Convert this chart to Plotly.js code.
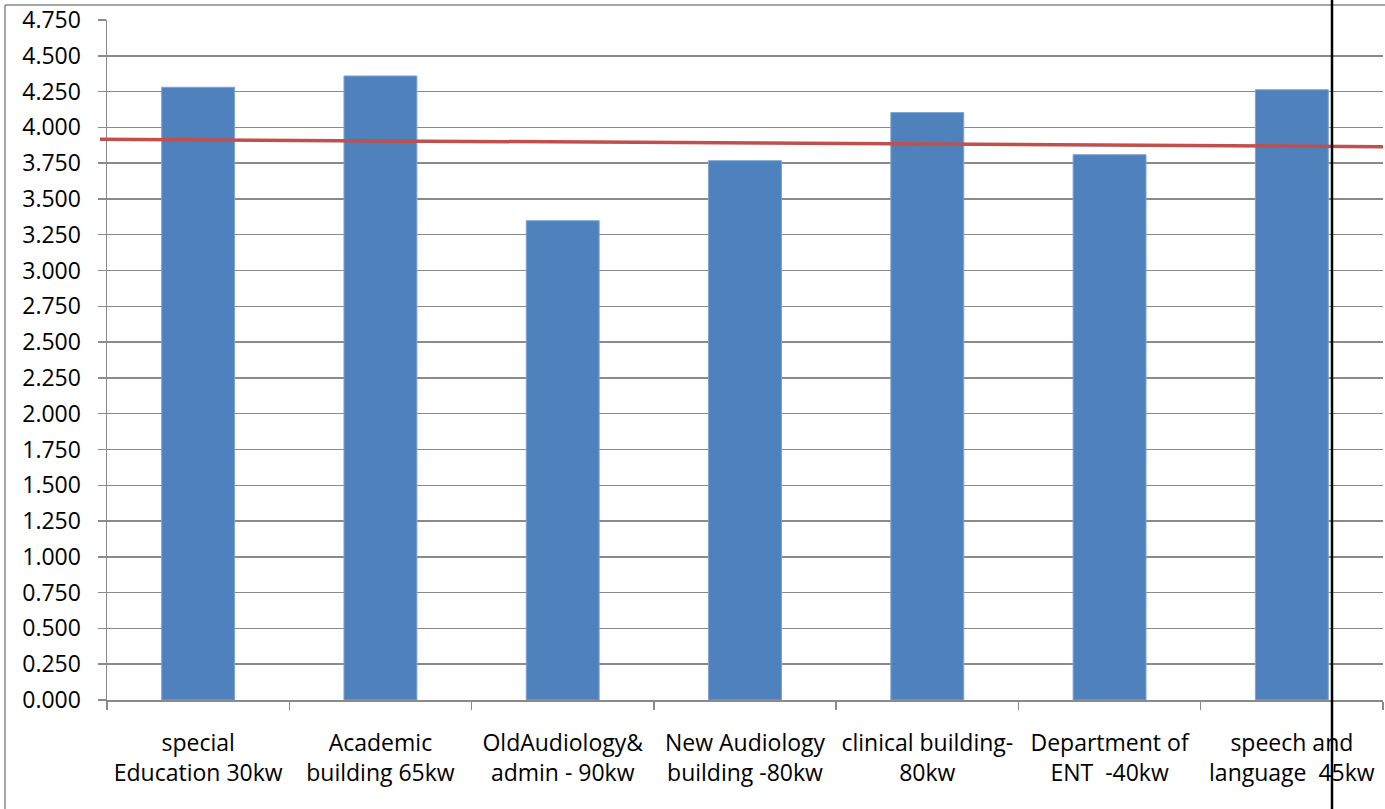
<!DOCTYPE html>
<html>
<head>
<meta charset="utf-8">
<script src="https://cdn.plot.ly/plotly-3.0.1.min.js"></script>
<style>
  html, body { margin: 0; padding: 0; background: #ffffff; }
  #chart { width: 1385px; height: 809px; }
</style>
</head>
<body>
<div id="chart"></div>
<script>
// Building names with their rated load (two-line tick labels)
const buildings = [
  "special<br>Education 30kw",
  "Academic<br>building 65kw",
  "OldAudiology&amp;<br>admin - 90kw",
  "New Audiology<br>building -80kw",
  "clinical building-<br>80kw",
  "Department of<br>ENT \u00a0-40kw",
  "speech and<br>language \u00a045kw"
];

// Measured value for each building
const values = [4.280, 4.359, 3.348, 3.767, 4.103, 3.809, 4.263];

// Reference line: value at the left and right ends of the plot
const referenceLine = [3.917, 3.865];

// Y axis ticks
const yTickValues = [0, 0.25, 0.5, 0.75, 1, 1.25, 1.5, 1.75, 2, 2.25, 2.5, 2.75,
                     3, 3.25, 3.5, 3.75, 4, 4.25, 4.5, 4.75];

// Plot-area geometry in pixels, used to place the frame decorations
const W = 1385, H = 809;
const M = { l: 107, r: 2, t: 20, b: 109 };
const plotW = W - M.l - M.r;
const plotH = H - M.t - M.b;
const px = x => (x - M.l) / plotW;           // page x -> paper x
const py = y => 1 - (y - M.t) / plotH;       // page y -> paper y

const FONT = "Open Sans, Noto Sans, sans-serif";
const FONT_SIZE = 23;
const GRID = "#8a8a8a";

const trace = {
  type: "bar",
  x: buildings,
  y: values,
  marker: { color: "#4F81BD", line: { color: "#7ea3d3", width: 1 } },
  hoverinfo: "x+y"
};

const layout = {
  width: W,
  height: H,
  margin: M,
  paper_bgcolor: "#ffffff",
  plot_bgcolor: "#ffffff",
  showlegend: false,
  bargap: 0.6,
  font: { family: FONT, size: FONT_SIZE, color: "#000000" },
  xaxis: {
    type: "category",
    showgrid: false,
    showline: true,
    linecolor: GRID,
    linewidth: 1.5,
    ticks: "outside",
    tickson: "boundaries",
    ticklen: 8,
    tickwidth: 1.5,
    tickcolor: GRID,
    ticklabelstandoff: 22,
    tickfont: { family: FONT, size: FONT_SIZE, color: "#000000" },
    fixedrange: true
  },
  yaxis: {
    range: [0, 4.75],
    tickvals: yTickValues,
    tickformat: ".3f",
    showgrid: true,
    gridcolor: GRID,
    gridwidth: 1.5,
    zeroline: false,
    showline: true,
    linecolor: GRID,
    linewidth: 1.5,
    ticks: "outside",
    ticklen: 8,
    tickwidth: 1.5,
    tickcolor: GRID,
    ticklabelstandoff: 12,
    tickfont: { family: FONT, size: FONT_SIZE, color: "#000000" },
    fixedrange: true
  },
  shapes: [
    // reference line across the plot
    {
      type: "line", xref: "paper", yref: "y",
      x0: px(100), x1: 1, y0: referenceLine[0], y1: referenceLine[1],
      line: { color: "#C0504D", width: 3.5 }
    },
    // outer frame: top and left edges
    {
      type: "line", xref: "paper", yref: "paper",
      x0: px(5), x1: px(W), y0: py(5), y1: py(5),
      line: { color: "#8a8a8a", width: 1.5 }
    },
    {
      type: "line", xref: "paper", yref: "paper",
      x0: px(5), x1: px(5), y0: py(5), y1: py(H),
      line: { color: "#8a8a8a", width: 1.5 }
    },
    // vertical marker line
    {
      type: "line", xref: "paper", yref: "paper",
      x0: px(1332), x1: px(1332), y0: py(0), y1: py(H),
      line: { color: "#000000", width: 2.5 }
    }
  ]
};

Plotly.newPlot("chart", [trace], layout, { displayModeBar: false, staticPlot: true });
</script>
</body>
</html>
